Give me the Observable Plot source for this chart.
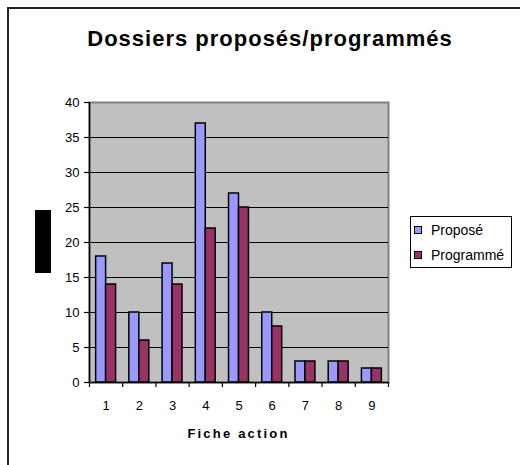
<!DOCTYPE html>
<html>
<head>
<meta charset="utf-8">
<script src="https://cdn.jsdelivr.net/npm/d3@7"></script>
<script src="https://cdn.jsdelivr.net/npm/@observablehq/plot@0.6"></script>
<style>
  html, body { margin: 0; padding: 0; background: #fff; }
  #wrap { position: relative; width: 520px; height: 465px; overflow: hidden; font-family: "Liberation Sans", Arial, sans-serif; }
  #border { position: absolute; left: 7px; top: 7px; width: 700px; height: 700px; border-left: 2px solid #222; border-top: 2px solid #222; }
  #title { position: absolute; left: 0; width: 540px; top: 26px; text-align: center; font-weight: bold; font-size: 22px; letter-spacing: 1px; margin: 0; color: #000; }
  #ylab { position: absolute; left: 35px; top: 210px; width: 16px; height: 63px; background: #000; }
  #chart { position: absolute; left: 0; top: 0; }
  #legend { position: absolute; left: 410px; top: 216px; width: 102px; height: 52px; border: 1px solid #000; background: #fff; box-sizing: border-box; font-size: 14px; }
  .item { position: absolute; left: 3px; display: flex; align-items: center; }
  .sw { width: 6px; height: 6px; border: 1.5px solid #000; margin-right: 9px; }
  #xlab { position: absolute; left: 89px; width: 299px; top: 426px; text-align: center; font-weight: bold; font-size: 13px; letter-spacing: 2.2px; }
</style>
</head>
<body>
<div id="wrap">
  <div id="border"></div>
  <div id="title">Dossiers proposés/programmés</div>
  <div id="chart"></div>
  <div id="ylab"></div>
  <div id="xlab">Fiche action</div>
  <div id="legend"></div>
</div>
<script>
const categories = [1, 2, 3, 4, 5, 6, 7, 8, 9];
const propose = [18, 10, 17, 37, 27, 10, 3, 3, 2];
const programme = [14, 6, 14, 22, 25, 8, 3, 3, 2];
const seriesNames = ["Proposé", "Programmé"];
const seriesColors = ["#9999FF", "#993366"];
const yTicks = [0, 5, 10, 15, 20, 25, 30, 35, 40];

const data = categories.flatMap((c, i) => [
  {cat: c, series: seriesNames[0], value: propose[i], k: 0},
  {cat: c, series: seriesNames[1], value: programme[i], k: 1}
]);
const half = 0.3; // half group width in category units

const plot = Plot.plot({
  width: 520,
  height: 465,
  marginLeft: 89,
  marginRight: 132,
  marginTop: 102,
  marginBottom: 83,
  style: {background: "transparent", fontFamily: "Liberation Sans, Arial, sans-serif", fontSize: "13px", color: "#000"},
  x: {domain: [0.5, 9.5]},
  y: {domain: [0, 40]},
  color: {domain: seriesNames, range: seriesColors},
  marks: [
    Plot.frame({fill: "#C0C0C0", stroke: "#808080", strokeWidth: 2}),
    Plot.ruleY(yTicks.filter(t => t > 0 && t < 40), {stroke: "#000", strokeWidth: 1.2}),
    Plot.rectY(data, {
      x1: d => d.cat - half + d.k * half,
      x2: d => d.cat + d.k * half,
      y1: 0,
      y2: "value",
      fill: "series",
      stroke: "#000",
      strokeWidth: 1.5
    }),
    Plot.ruleX([0.5], {stroke: "#000", strokeWidth: 1.5}),
    Plot.ruleY([0], {stroke: "#000", strokeWidth: 1.5}),
    Plot.axisY({ticks: yTicks, tickSize: 5, tickPadding: 5, label: null, fontSize: 13, strokeWidth: 1.2}),
    Plot.axisX({ticks: d3.range(0.5, 10, 1), tickSize: 5, tickFormat: () => "", label: null, strokeWidth: 1.2}),
    Plot.axisX({ticks: categories, tickSize: 0, tickPadding: 18, tickFormat: d => String(d), label: null, fontSize: 13})
  ]
});
document.getElementById("chart").appendChild(plot);

const legend = document.getElementById("legend");
seriesNames.forEach((name, i) => {
  const item = document.createElement("div");
  item.className = "item";
  item.style.top = (i === 0 ? 5 : 30) + "px";
  const sw = document.createElement("span");
  sw.className = "sw";
  sw.style.background = seriesColors[i];
  const t = document.createElement("span");
  t.textContent = name;
  item.appendChild(sw);
  item.appendChild(t);
  legend.appendChild(item);
});
</script>
</body>
</html>
